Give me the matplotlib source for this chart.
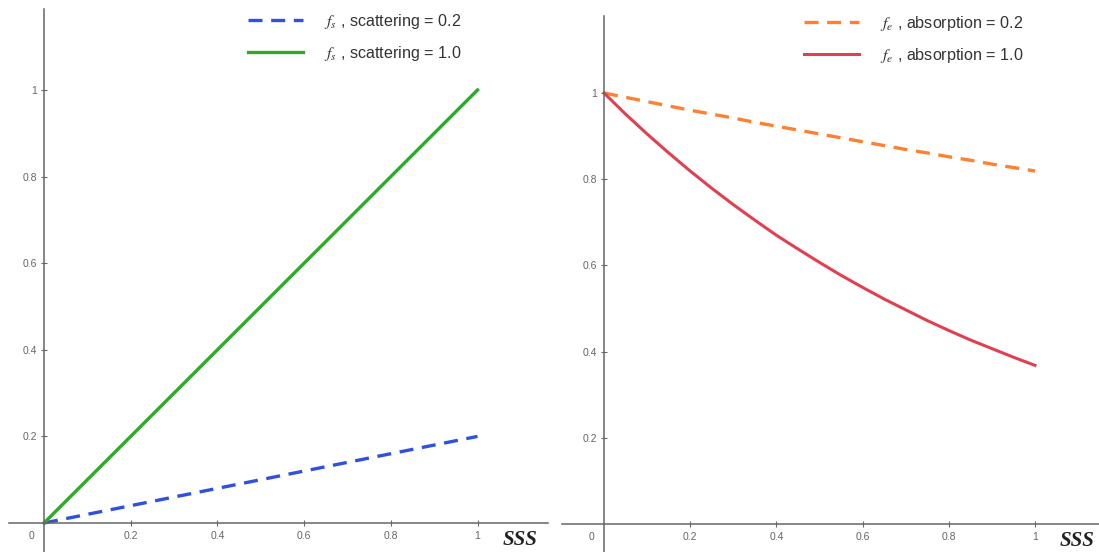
import matplotlib
matplotlib.use("Agg")
import matplotlib.pyplot as plt

plt.rcParams['font.family'] = ['Liberation Sans', 'DejaVu Sans']
plt.rcParams['mathtext.fontset'] = 'stix'

# ---- data ----
sss = [0.0, 0.05, 0.1, 0.15, 0.2, 0.25, 0.3, 0.35, 0.4, 0.45, 0.5,
       0.55, 0.6, 0.65, 0.7, 0.75, 0.8, 0.85, 0.9, 0.95, 1.0]
scatter_02 = [0.0, 0.01, 0.02, 0.03, 0.04, 0.05, 0.06, 0.07, 0.08, 0.09, 0.10,
              0.11, 0.12, 0.13, 0.14, 0.15, 0.16, 0.17, 0.18, 0.19, 0.20]
scatter_10 = [0.0, 0.05, 0.1, 0.15, 0.2, 0.25, 0.3, 0.35, 0.4, 0.45, 0.5,
              0.55, 0.6, 0.65, 0.7, 0.75, 0.8, 0.85, 0.9, 0.95, 1.0]
absorb_02 = [1.0, 0.99, 0.98, 0.97, 0.96, 0.951, 0.942, 0.932, 0.923, 0.914, 0.905,
             0.896, 0.887, 0.878, 0.869, 0.861, 0.852, 0.844, 0.835, 0.827, 0.819]
absorb_10 = [1.0, 0.951, 0.905, 0.861, 0.819, 0.779, 0.741, 0.705, 0.670, 0.638, 0.607,
             0.577, 0.549, 0.522, 0.497, 0.472, 0.449, 0.427, 0.407, 0.387, 0.368]
tick_vals = [0.2, 0.4, 0.6, 0.8, 1.0]
tick_labels = ['0.2', '0.4', '0.6', '0.8', '1']
labels_left = [r'$f_s$ , scattering = 0.2', r'$f_s$ , scattering = 1.0']
labels_right = [r'$f_e$ , absorption = 0.2', r'$f_e$ , absorption = 1.0']

W, H = 1099, 552
fig = plt.figure(figsize=(W / 100, H / 100), dpi=100)
fig.patch.set_facecolor('white')

BLUE = '#3050e0'
GREEN = '#30a828'
ORANGE = '#ff8030'
RED = '#e0404f'
AXC = '#666666'
TXC = '#666666'


def setup(ax, xlim, ylim, ybound_top, xbound_left):
    ax.set_xlim(*xlim)
    ax.set_ylim(*ylim)
    for s in ['top', 'right']:
        ax.spines[s].set_visible(False)
    ax.spines['left'].set_position(('data', 0))
    ax.spines['bottom'].set_position(('data', 0))
    ax.spines['left'].set_bounds(ylim[0], ybound_top)
    ax.spines['bottom'].set_bounds(xbound_left, xlim[1])
    for s in ['left', 'bottom']:
        ax.spines[s].set_color(AXC)
        ax.spines[s].set_linewidth(1.1)
    ax.set_xticks(tick_vals)
    ax.set_xticklabels(tick_labels)
    ax.set_yticks(tick_vals)
    ax.set_yticklabels(tick_labels)
    ax.tick_params(axis='both', direction='inout', length=4, width=0.8,
                   color=AXC, labelcolor=TXC, labelsize=7.5)
    ax.tick_params(axis='x', pad=4)
    ax.tick_params(axis='y', pad=3)
    ax.text(-0.022, -0.03, '0', color=TXC, fontsize=7.5, ha='right', va='center')
    ax.text(1.058, -0.04, 'SSS', fontsize=15, fontweight='bold', fontstyle='italic',
            family='Liberation Serif', ha='left', va='center', color='#222222')


# left panel
ax1 = fig.add_axes([0, 0, 548 / W, 1])
setup(ax1, (-44 / 433.5, 504 / 433.5), (-29 / 433, 523 / 433), 514 / 433, -35 / 433.5)
l1, = ax1.plot(sss, scatter_02, color=BLUE, lw=2.4, dashes=(4.2, 2.6),
               solid_capstyle='butt', dash_capstyle='butt')
l2, = ax1.plot(sss, scatter_10, color=GREEN, lw=2.4)
ax1.legend([l1, l2], labels_left, loc='upper left', frameon=False,
           bbox_to_anchor=(248 / W, 1 - 12 / H), bbox_transform=fig.transFigure,
           borderpad=0, borderaxespad=0, handlelength=3.4, handletextpad=1.3,
           labelspacing=0.8, fontsize=11.6, labelcolor='#333333')

# right panel
ax2 = fig.add_axes([552 / W, 0, 547 / W, 1])
setup(ax2, (-52 / 431, 495 / 431), (-28 / 431, 524 / 431), 508 / 431, -42 / 431)
l3, = ax2.plot(sss, absorb_02, color=ORANGE, lw=2.4, dashes=(4.2, 2.6))
l4, = ax2.plot(sss, absorb_10, color=RED, lw=2.2)
ax2.legend([l3, l4], labels_right, loc='upper left', frameon=False,
           bbox_to_anchor=(804 / W, 1 - 14 / H), bbox_transform=fig.transFigure,
           borderpad=0, borderaxespad=0, handlelength=3.4, handletextpad=1.3,
           labelspacing=0.8, fontsize=11.6, labelcolor='#333333')

fig.savefig('out.png', dpi=100, facecolor='white')
